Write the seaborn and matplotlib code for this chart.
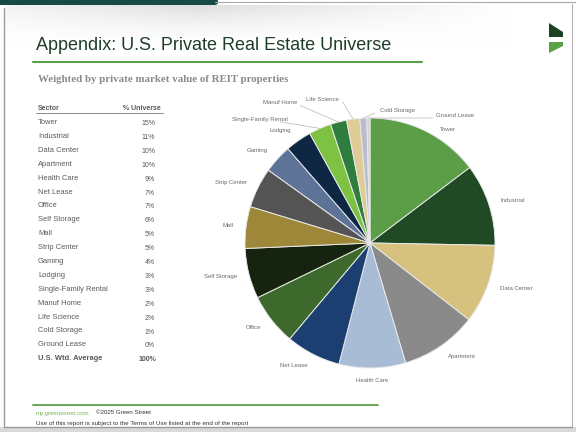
import numpy as np
import matplotlib
matplotlib.use("Agg")
import matplotlib.pyplot as plt
from matplotlib.patches import Polygon, FancyBboxPatch, Rectangle
import seaborn as sns

# --- data -------------------------------------------------------------
sectors = ["Tower", "Industrial", "Data Center", "Apartment", "Health Care",
           "Net Lease", "Office", "Self Storage", "Mall", "Strip Center",
           "Gaming", "Lodging", "Single-Family Rental", "Manuf Home",
           "Life Science", "Cold Storage", "Ground Lease"]
shares = [14.7, 10.6, 10.2, 9.9, 8.6, 7.1, 6.7, 6.5, 5.4, 5.2,
          3.7, 3.4, 2.9, 2.1, 1.7, 0.9, 0.4]
sector_colors = ["#5b9e47", "#1f4a23", "#d6c27e", "#8a8a8a", "#a9bcd6",
                 "#1b3f70", "#3d6a2c", "#15230f", "#9e8738", "#545454",
                 "#5d7398", "#0e2844", "#7dc243", "#2e7d3c", "#dfcb96",
                 "#b9bdcc", "#d4d4d4"]
total_label = "U.S. Wtd. Average"

sns.set_theme(style="white")
plt.rcParams["font.family"] = ["Liberation Sans", "DejaVu Sans"]
palette = sns.color_palette(sector_colors)

W, H = 576, 432
fig = plt.figure(figsize=(W / 100, H / 100), dpi=100)


def fx(x):
    return x / W


def fy(y):
    return 1 - y / H


# --- slide frame --------------------------------------------------------
frame = dict(transform=fig.transFigure, figure=fig)

# soft grey sheen across the top of the slide
yy, xx = np.mgrid[0:1:60j, 0:1:200j]
shade = 1 - 0.13 * (1 - yy) ** 1.5 * np.clip(1 - np.abs(xx - 0.35) / 0.55, 0, 1)
haze_ax = fig.add_axes([fx(5), fy(45), fx(560), 40 / H])
haze_ax.imshow(np.dstack([shade, shade, shade]), aspect="auto",
               interpolation="bilinear", extent=[0, 1, 0, 1], vmin=0, vmax=1)
haze_ax.set_axis_off()

fig.patches.append(Rectangle((fx(0), fy(432)), 1, 5 / H, color="#d9d9d9", lw=0, **frame))
fig.add_artist(plt.Line2D([fx(4), fx(4)], [fy(8), fy(427)], color="#9a9a9a", lw=1.0))
fig.add_artist(plt.Line2D([fx(572), fx(572)], [fy(4), fy(427)], color="#b0b0b0", lw=0.8))
fig.add_artist(plt.Line2D([fx(4), fx(572)], [fy(427), fy(427)], color="#9a9a9a", lw=1.0))
fig.add_artist(plt.Line2D([fx(215), fx(576)], [fy(2), fy(2)], color="#a8a8a8", lw=0.8))
fig.patches.append(FancyBboxPatch((fx(-10), fy(5)), fx(228), 6 / H,
                                  boxstyle="round,pad=0,rounding_size=0.006",
                                  color="#174a44", lw=0, **frame))

# logo
fig.patches.append(Polygon([(fx(549), fy(23)), (fx(563), fy(32)), (fx(563), fy(37)),
                            (fx(549), fy(37))], closed=True, color="#1c4424", lw=0, **frame))
fig.patches.append(Polygon([(fx(549), fy(42)), (fx(563), fy(42)), (fx(563), fy(46)),
                            (fx(549), fy(53))], closed=True, color="#5aa046", lw=0, **frame))

# --- title block --------------------------------------------------------
fig.text(fx(36), fy(46), "Appendix: U.S. Private Real Estate Universe",
         fontsize=13, color="#1f3d2a", va="center", ha="left")
fig.add_artist(plt.Line2D([fx(33), fx(422)], [fy(62), fy(62)], color="#5aa046", lw=1.5))
fig.text(fx(38), fy(80), "Weighted by private market value of REIT properties",
         fontsize=7.8, color="#8a8a8a", va="center", ha="left",
         family=["Liberation Serif", "DejaVu Serif"], fontweight="bold")

# --- table ----------------------------------------------------------------
txt_col = "#5a5a5a"
fig.text(fx(38), fy(108), "Sector", fontsize=5, color=txt_col, fontweight="bold", va="center")
fig.text(fx(161), fy(108), "% Universe", fontsize=5, color=txt_col, fontweight="bold",
         va="center", ha="right")
fig.add_artist(plt.Line2D([fx(36), fx(163)], [fy(113), fy(113)], color="#7a7a7a", lw=0.6))

row0, step = 122.5, 13.9
for i, (name, val) in enumerate(zip(sectors, shares)):
    y = row0 + i * step
    fig.text(fx(38), fy(y), name, fontsize=5.4, color=txt_col, va="center")
    fig.text(fx(155), fy(y + 1), f"{round(val)}%", fontsize=5, color=txt_col,
             va="center", ha="right")
y = row0 + len(sectors) * step
fig.text(fx(38), fy(y), total_label, fontsize=5.4, color=txt_col, va="center", fontweight="bold")
fig.text(fx(156), fy(y + 1), f"{round(sum(shares))}%", fontsize=5, color=txt_col,
         va="center", ha="right", fontweight="bold")

# --- pie ------------------------------------------------------------------
cx, cy, R = 370, 243, 125
ax = fig.add_axes([fx(cx - R), fy(cy + R), 2 * R / W, 2 * R / H])
wedges, _ = ax.pie(shares, colors=palette, startangle=90, counterclock=False,
                   wedgeprops=dict(edgecolor="#e9e9e9", linewidth=0.7))
ax.set_xlim(-1, 1)
ax.set_ylim(-1, 1)
ax.set_aspect("equal")
ax.set_axis_off()

# hand-placed labels for the crowded thin slices at the top
label_spots = {
    "Single-Family Rental": (-0.88, 0.99),
    "Manuf Home": (-0.72, 1.12),
    "Life Science": (-0.38, 1.15),
    "Cold Storage": (0.22, 1.06),
    "Ground Lease": (0.68, 1.02),
    "Tower": (0.62, 0.91),
}
leader = {"Manuf Home", "Life Science", "Cold Storage", "Ground Lease", "Single-Family Rental"}

lab_col = "#6a6a6a"
for w, name in zip(wedges, sectors):
    mid = np.deg2rad((w.theta1 + w.theta2) / 2)
    c, s = np.cos(mid), np.sin(mid)
    if name in label_spots:
        tx, ty = label_spots[name]
        ax.text(tx, ty, name, fontsize=4.3, color=lab_col, ha="center", va="center")
        if name in leader:
            ex, ey = 1.0 * c, 1.0 * s
            sx = tx + (0.16 if tx < ex else -0.18)
            ax.plot([ex, sx], [ey, ty - 0.02], color="#b5b5b5", lw=0.5, clip_on=False)
        continue
    r = 1.1
    ha = "center" if abs(c) < 0.3 else ("left" if c > 0 else "right")
    ax.text(r * c, r * s, name, fontsize=4.3, color=lab_col, ha=ha, va="center")

# --- footer -----------------------------------------------------------------
fig.add_artist(plt.Line2D([fx(33), fx(378)], [fy(405), fy(405)], color="#5aa046", lw=1.3))
fig.text(fx(36), fy(413), "my.greenstreet.com", fontsize=4.4, color="#7ab55c", va="center")
fig.text(fx(96), fy(413), "\u00a92025 Green Street", fontsize=4.4, color="#333333", va="center")
fig.text(fx(36), fy(423), "Use of this report is subject to the Terms of Use listed at the end of the report",
         fontsize=4.5, color="#333333", va="center")

fig.savefig("out.png", dpi=100, facecolor="white")
